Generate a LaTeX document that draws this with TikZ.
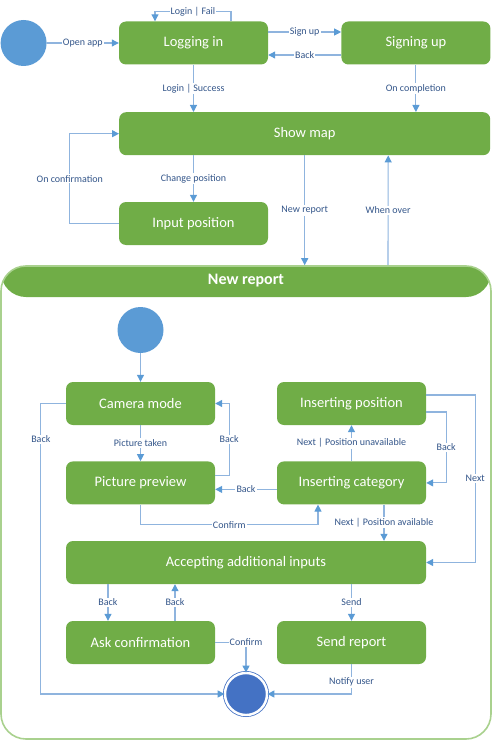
\documentclass[tikz,border=0pt]{standalone}
\usepackage{fontspec}
\setmainfont{Carlito}
\usetikzlibrary{arrows.meta,positioning}
\definecolor{stategreen}{HTML}{70AD47}
\definecolor{framegreen}{HTML}{A9D18E}
\definecolor{dotblue}{HTML}{5B9BD5}
\definecolor{endblue}{HTML}{4472C4}
\definecolor{linkblue}{HTML}{8FB4DE}
\definecolor{tipblue}{HTML}{5B9BD5}
\definecolor{labelblue}{HTML}{34568A}

\begin{document}
\begin{tikzpicture}[x=1pt, y=1pt,
  statebox/.style={rectangle, rounded corners=7pt, fill=stategreen, text=white,
    minimum width=149pt, minimum height=43pt, inner sep=0pt,
    font=\fontsize{14.5}{17}\selectfont},
  startdot/.style={circle, fill=dotblue, minimum size=46pt, inner sep=0pt},
  enddot/.style={circle, fill=endblue, draw=endblue, line width=0.8pt,
    double=white, double distance=2.4pt, minimum size=42pt, inner sep=0pt},
  flow/.style={draw=linkblue, line width=1.1pt,
    -{Triangle[length=7pt, width=7pt, color=tipblue]}},
  lbl/.style={fill=white, text=labelblue, inner sep=1.2pt,
    font=\fontsize{10}{11}\selectfont}]
\useasboundingbox (0,0) rectangle (492,-741);

% top level states
\node (login) [statebox] at (193.5,-43) {Logging in};
\node (start) [startdot, left=72pt of login] {};
\node (signup) [statebox, right=73pt of login] {Signing up};
\node (showmap) [statebox, minimum width=371pt, anchor=north west] at (119,-112) {Show map};
\node (input) [statebox] at (193.5,-223.5) {Input position};

% new report container
\node (report) [rectangle, rounded corners=25pt, draw=framegreen, line width=1.6pt,
  minimum width=490pt, minimum height=473pt,
  path picture={\fill[stategreen] (path picture bounding box.north west)
    rectangle ([yshift=-31pt]path picture bounding box.north east);}] at (246,-502.5) {};
\node (reporttitle) [text=white, font=\fontsize{16}{18}\selectfont\bfseries] at ([yshift=-15.5pt]report.north) {New report};

\node (istart) [startdot] at (140.5,-330) {};
\node (camera) [statebox] at (140.5,-403.5) {Camera mode};
\node (preview) [statebox, below=36pt of camera] {Picture preview};
\node (position) [statebox] at (351.5,-403.5) {Inserting position};
\node (category) [statebox, below=36pt of position] {Inserting category};
\node (accept) [statebox, minimum width=360pt] at (246,-562.5) {Accepting additional inputs};
\node (ask) [statebox] at (140.5,-642.5) {Ask confirmation};
\node (send) [statebox] at (351.5,-642.5) {Send report};
\node (end) [enddot] at (246,-694) {};

% top level transitions
\draw[flow] (start) -- node[lbl] {Open app} (login);
\draw[flow] ([xshift=37.5pt]login.north) -- ++(0,10) -| node[lbl, pos=0.25] {Login | Fail} ([xshift=-38.5pt]login.north);
\draw[flow] ([yshift=11pt]login.east) -- node[lbl] {Sign up} ([yshift=11pt]signup.west);
\draw[flow] ([yshift=-12pt]signup.west) -- node[lbl] {Back} ([yshift=-12pt]login.east);
\draw[flow] (login.south) -- node[lbl] {Login | Success} (login.south |- showmap.north);
\draw[flow] (signup.south) -- node[lbl] {On completion} (signup.south |- showmap.north);
\draw[flow] (showmap.south -| input.north) -- node[lbl] {Change position} (input.north);
\draw[flow] (input.west) -- ++(-49,0) |- node[lbl, pos=0.25] {On confirmation} (showmap.west);
\draw[flow] (showmap.south) -- node[lbl] {New report} (showmap.south |- report.north);
\draw[flow] ([xshift=142pt]report.north) -- node[lbl] {When over} ([xshift=83.5pt]showmap.south);

% inside new report
\draw[flow] (istart) -- (camera);
\draw[flow] (camera) -- node[lbl] {Picture taken} (preview);
\draw[flow] ([yshift=7.5pt]preview.east) -- ++(14,0) |- node[lbl, pos=0.25] {Back} (camera.east);
\draw[flow] ([yshift=-6.5pt]category.west) -- node[lbl] {Back} ([yshift=-6.5pt]preview.east);
\draw[flow] (preview.south) -- ++(0,-20) -| node[lbl, pos=0.25] {Confirm} ([xshift=-33.5pt]category.south);
\draw[flow] (category) -- node[lbl] {Next | Position unavailable} (position);
\draw[flow] ([yshift=-8.5pt]position.east) -- ++(20,0) |- node[lbl, pos=0.25] {Back} (category.east);
\draw[flow] ([yshift=8.5pt]position.east) -- ++(49,0) |- node[lbl, pos=0.25] {Next} (accept.east);
\draw[flow] ([xshift=32.5pt]category.south) -- node[lbl] {Next | Position available} ([xshift=138pt]accept.north);
\draw[flow] ([xshift=-138pt]accept.south) -- node[lbl] {Back} ([xshift=-32.5pt]ask.north);
\draw[flow] ([xshift=34.5pt]ask.north) -- node[lbl] {Back} ([xshift=-71pt]accept.south);
\draw[flow] ([xshift=105.5pt]accept.south) -- node[lbl] {Send} (send.north);
\draw[flow] (camera.west) -- ++(-25,0) |- node[lbl, pos=0.062] {Back} (end.west);
\draw[flow] (ask.east) -| node[lbl] {Confirm} (end.north);
\draw[flow] (send.south) |- node[lbl, pos=0.3] {Notify user} (end.east);
\end{tikzpicture}
\end{document}
